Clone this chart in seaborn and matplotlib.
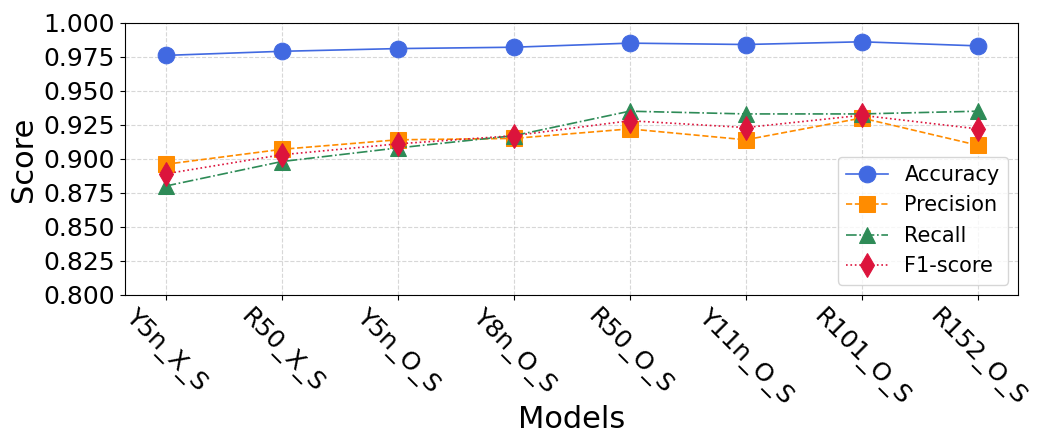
import numpy as np
import pandas as pd
import seaborn as sns
import matplotlib.pyplot as plt

# models on the x axis
models = ["Y5n_X_S", "R50_X_S", "Y5n_O_S", "Y8n_O_S", "R50_O_S", "Y11n_O_S", "R101_O_S", "R152_O_S"]

# scores
accuracy = [0.976, 0.979, 0.981, 0.982, 0.985, 0.984, 0.986, 0.983]
precision = [0.896, 0.907, 0.914, 0.915, 0.922, 0.914, 0.930, 0.910]
recall = [0.880, 0.898, 0.908, 0.917, 0.935, 0.933, 0.933, 0.935]
f1_score = [0.889, 0.903, 0.911, 0.917, 0.928, 0.923, 0.932, 0.922]

series = {"Accuracy": accuracy, "Precision": precision, "Recall": recall, "F1-score": f1_score}
styles = {
    "Accuracy": dict(color="royalblue", marker="o", linestyle="-"),
    "Precision": dict(color="darkorange", marker="s", linestyle="--"),
    "Recall": dict(color="seagreen", marker="^", linestyle="-."),
    "F1-score": dict(color="crimson", marker="d", linestyle=":"),
}

plt.rcParams['font.family'] = ['DejaVu Sans']

fig, ax = plt.subplots(figsize=(10.37, 4.37), dpi=100)
for name, vals in series.items():
    df = pd.DataFrame({"Models": models, "Score": vals})
    st = styles[name]
    sns.lineplot(data=df, x="Models", y="Score", ax=ax, label=name,
                 markersize=12, linewidth=1.2, sort=False,
                 markeredgecolor=st["color"], **st)

ax.set_ylim(0.8, 1.0)
ax.set_yticks(np.arange(0.8, 1.0001, 0.025))
ax.set_xlabel("Models", fontsize=22)
ax.set_ylabel("Score", fontsize=22)
ax.xaxis.set_label_coords(0.5, -0.405)
ax.tick_params(axis="both", labelsize=18)
plt.setp(ax.get_xticklabels(), rotation=-45)
ax.grid(True, linestyle="--", alpha=0.5)
ax.legend(loc="lower right", fontsize=15)

plt.subplots_adjust(left=0.1205, right=0.982, top=0.948, bottom=0.325)
plt.savefig("out.png", dpi=100)
